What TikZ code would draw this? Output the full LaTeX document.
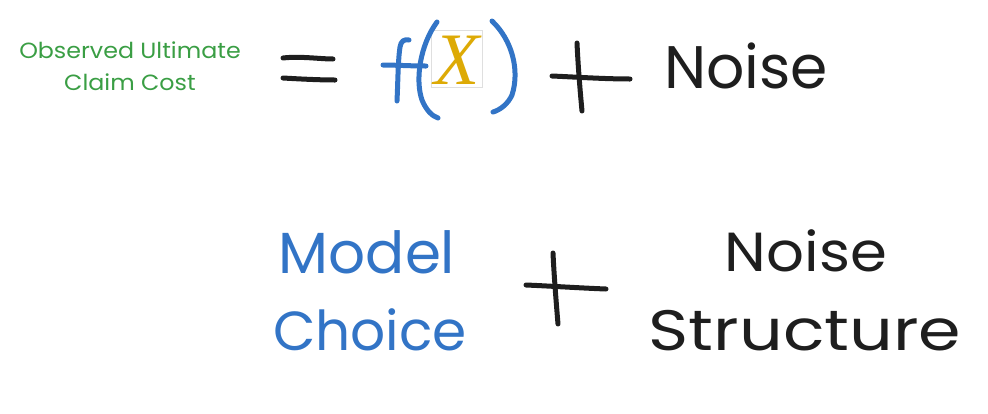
\documentclass[tikz,border=0pt]{standalone}
\usepackage{fontspec}
\setmainfont{Poppins}
\newfontfamily\xfont{Liberation Serif}
\definecolor{ink}{HTML}{1E1E1E}
\definecolor{exblue}{HTML}{3274C6}
\definecolor{exgreen}{HTML}{3A9E44}
\definecolor{xgold}{HTML}{DDAA05}
\tikzset{
  txt/.style={inner sep=0pt, anchor=base},
  stroke/.style={line width=5pt, line cap=round, line join=round},
}
\begin{document}
\begin{tikzpicture}[x=1pt,y=-1pt]
\useasboundingbox (0,0) rectangle (988,413);
% green label
\node[txt, text=exgreen, font=\fontsize{22}{26}\selectfont] (obs) at (130,58) {\scalebox{1.08}[1]{Observed Ultimate}};
\node[txt, text=exgreen, font=\fontsize{22}{26}\selectfont] (claim) at (130,90) {\scalebox{1.08}[1]{Claim Cost}};
% equals
\draw[stroke, ink] (283,58) .. controls (300,56) and (320,59) .. (333,59);
\draw[stroke, ink] (283,78) .. controls (300,79) and (320,80) .. (335,80);
% f
\draw[stroke, exblue] (397,101) .. controls (398,80) and (398,60) .. (400,47) .. controls (401,41) and (404,39) .. (409,40);
\draw[stroke, exblue] (383,65) .. controls (395,65) and (410,66) .. (426,66);
% X box
\node[draw=gray!25, line width=0.8pt, fill=white, minimum width=51pt, minimum height=57pt, inner sep=0pt] (xbox) at (456.5,58.5) {};
\node[inner sep=0pt, text=xgold, font=\xfont\itshape\fontsize{74}{80}\selectfont, anchor=base] (xlab) at (457,84) {X};
% parentheses
\draw[stroke, exblue] (437,22) .. controls (420,45) and (415,80) .. (422,100) .. controls (426,110) and (432,116) .. (438,118);
\draw[stroke, exblue] (492,21) .. controls (512,40) and (520,70) .. (512,95) .. controls (508,104) and (500,110) .. (493,112);
% plus top
\draw[stroke, ink] (577,43) .. controls (578,65) and (580,90) .. (582,111);
\draw[stroke, ink] (552,76) .. controls (575,77) and (605,79) .. (630,79);
% Noise top
\node[txt, text=ink, font=\fontsize{60}{66}\selectfont] (noise1) at (746,88) {Noise};
% bottom
\node[txt, text=exblue, font=\fontsize{58}{64}\selectfont] (model) at (367,273) {Model};
\node[txt, text=exblue, font=\fontsize{55}{62}\selectfont] (choice) at (370,350) {Choice};
\draw[stroke, ink] (553,253) .. controls (554,275) and (556,300) .. (558,324);
\draw[stroke, ink] (526,285) .. controls (550,286) and (580,288) .. (606,289);
\node[txt, text=ink, font=\fontsize{55}{60}\selectfont] (noise2) at (806,271) {\scalebox{1.08}[1]{Noise}};
\node[txt, text=ink, font=\fontsize{57}{62}\selectfont] (struct) at (805,350) {\scalebox{1.2}[1]{Structure}};
\end{tikzpicture}
\end{document}
